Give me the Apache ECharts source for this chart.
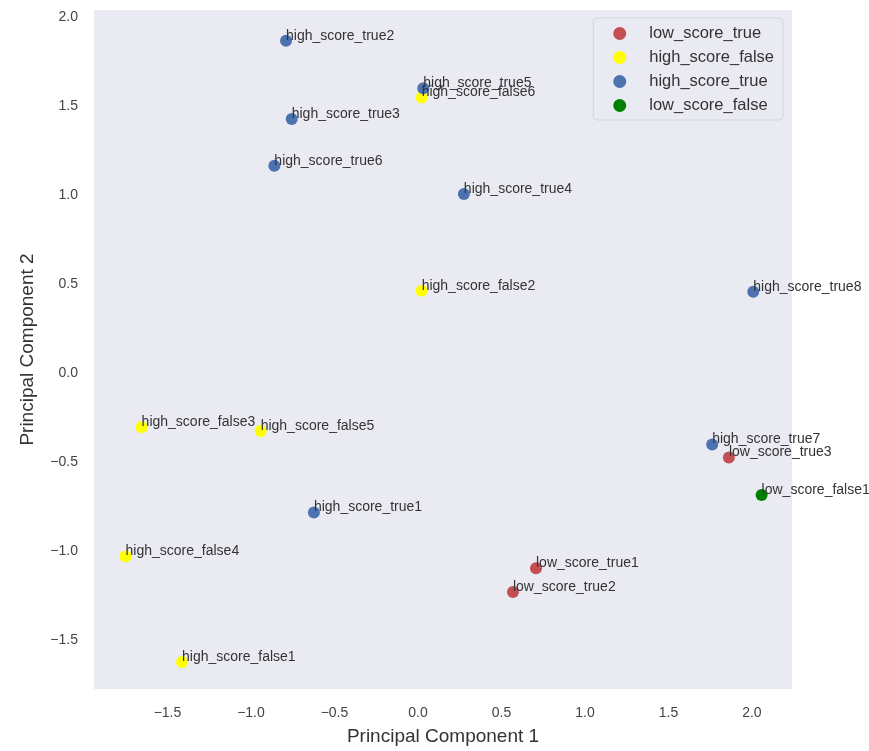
<!DOCTYPE html>
<html>
<head>
<meta charset="utf-8">
<script src="https://cdn.jsdelivr.net/npm/echarts@6/dist/echarts.min.js"></script>
<style>
  html, body { margin: 0; padding: 0; background: #fff; }
  #chart { width: 869px; height: 751px; }
</style>
</head>
<body>
<div id="chart"></div>
<script>
// data
const seriesNames = ['low_score_true', 'high_score_false', 'high_score_true', 'low_score_false'];
const seriesColors = ['#C44E52', '#FFFF00', '#4C72B0', '#008000'];

const lowTrueLabels = ['low_score_true1', 'low_score_true2', 'low_score_true3'];
const lowTrueX = [0.707, 0.569, 1.862];
const lowTrueY = [-1.096, -1.230, -0.474];

const highFalseLabels = ['high_score_false1', 'high_score_false2', 'high_score_false3', 'high_score_false4', 'high_score_false5', 'high_score_false6'];
const highFalseX = [-1.413, 0.022, -1.655, -1.751, -0.942, 0.022];
const highFalseY = [-1.624, 0.462, -0.305, -1.030, -0.326, 1.549];

const highTrueLabels = ['high_score_true1', 'high_score_true2', 'high_score_true3', 'high_score_true4', 'high_score_true5', 'high_score_true6', 'high_score_true7', 'high_score_true8'];
const highTrueX = [-0.623, -0.790, -0.756, 0.275, 0.032, -0.860, 1.762, 2.008];
const highTrueY = [-0.783, 1.867, 1.427, 1.006, 1.600, 1.165, -0.401, 0.457];

const lowFalseLabels = ['low_score_false1'];
const lowFalseX = [2.058];
const lowFalseY = [-0.685];

const xTicks = [-1.5, -1.0, -0.5, 0.0, 0.5, 1.0, 1.5, 2.0];
const yTicks = [-1.5, -1.0, -0.5, 0.0, 0.5, 1.0, 1.5, 2.0];

const groups = [
  [lowTrueLabels, lowTrueX, lowTrueY],
  [highFalseLabels, highFalseX, highFalseY],
  [highTrueLabels, highTrueX, highTrueY],
  [lowFalseLabels, lowFalseX, lowFalseY]
];

const fontName = '"Liberation Sans", Arial, sans-serif';
const fmt = v => v.toFixed(1).replace('-', '\u2212');

const myChart = echarts.init(document.getElementById('chart'));

let option = {
  animation: false,
  textStyle: { fontFamily: fontName },
  grid: {
    left: 94,
    right: 77,
    top: 10,
    bottom: 62,
    show: true,
    backgroundColor: '#EAEAF2',
    borderWidth: 0
  },
  legend: {
    orient: 'vertical',
    right: 86,
    top: 18,
    padding: [7, 9, 6, 20],
    itemGap: 7,
    itemWidth: 13,
    itemHeight: 13,
    icon: 'circle',
    backgroundColor: '#EAEAF2',
    borderColor: '#D4D4DC',
    borderWidth: 1,
    borderRadius: 4,
    data: seriesNames,
    textStyle: {
      color: '#333',
      fontSize: 16.5,
      padding: [0, 0, 0, 18]
    }
  },
  xAxis: {
    type: 'value',
    min: -1.94,
    max: 2.24,
    name: 'Principal Component 1',
    nameLocation: 'middle',
    nameGap: 38,
    nameTextStyle: { fontSize: 19, color: '#333' },
    axisLine: { show: false },
    axisTick: { show: false },
    splitLine: { show: false },
    axisLabel: {
      customValues: xTicks,
      formatter: fmt,
      margin: 17,
      fontSize: 14,
      color: '#444'
    }
  },
  yAxis: {
    type: 'value',
    min: -1.775,
    max: 2.04,
    name: 'Principal Component 2',
    nameLocation: 'middle',
    nameGap: 57,
    nameTextStyle: { fontSize: 19, color: '#333' },
    axisLine: { show: false },
    axisTick: { show: false },
    splitLine: { show: false },
    axisLabel: {
      customValues: yTicks,
      formatter: fmt,
      margin: 16,
      fontSize: 14,
      color: '#444'
    }
  },
  series: groups.map(function (g, i) {
    return {
      name: seriesNames[i],
      type: 'scatter',
      symbolSize: 12,
      itemStyle: { color: seriesColors[i], opacity: 1 },
      label: {
        show: true,
        position: [6, -6],
        align: 'left',
        verticalAlign: 'top',
        fontSize: 14,
        color: '#333',
        formatter: function (p) { return p.data[2]; }
      },
      data: g[0].map(function (name, k) { return [g[1][k], g[2][k], name]; })
    };
  })
};

myChart.setOption(option);
</script>
</body>
</html>
